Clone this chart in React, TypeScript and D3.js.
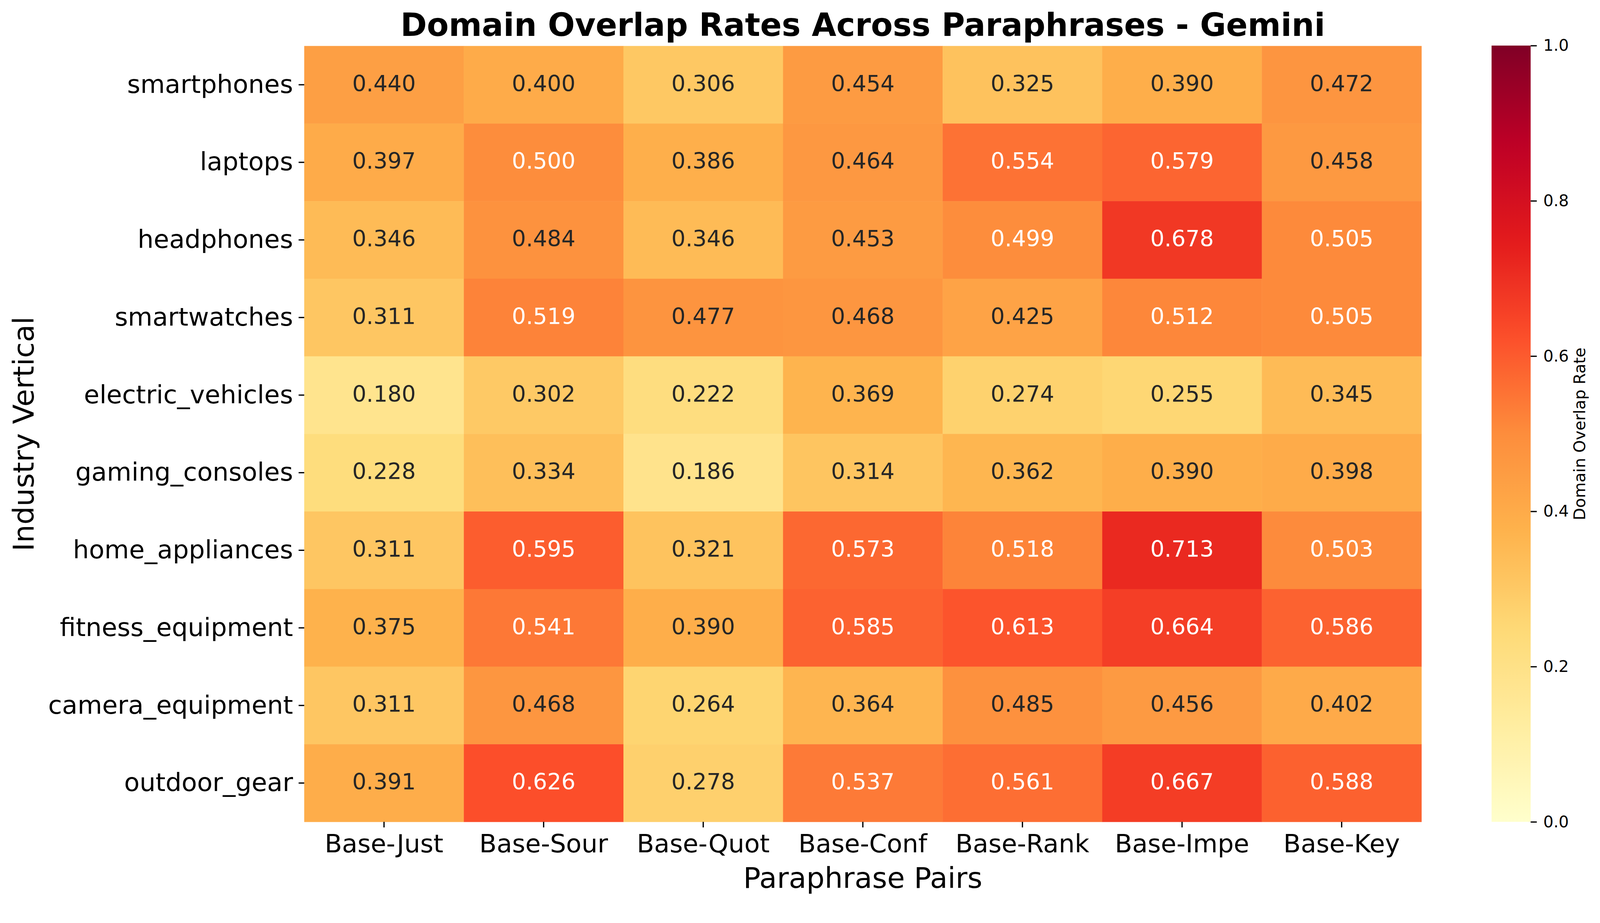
import React, { useEffect, useRef } from "react";
import * as d3 from "d3";

const industries = [
  "smartphones",
  "laptops",
  "headphones",
  "smartwatches",
  "electric_vehicles",
  "gaming_consoles",
  "home_appliances",
  "fitness_equipment",
  "camera_equipment",
  "outdoor_gear",
];

const pairs = ["Base-Just", "Base-Sour", "Base-Quot", "Base-Conf", "Base-Rank", "Base-Impe", "Base-Key"];

// one row per industry, one value per paraphrase pair
const overlap = [
  [0.44, 0.4, 0.306, 0.454, 0.325, 0.39, 0.472],
  [0.397, 0.5, 0.386, 0.464, 0.554, 0.579, 0.458],
  [0.346, 0.484, 0.346, 0.453, 0.499, 0.678, 0.505],
  [0.311, 0.519, 0.477, 0.468, 0.425, 0.512, 0.505],
  [0.18, 0.302, 0.222, 0.369, 0.274, 0.255, 0.345],
  [0.228, 0.334, 0.186, 0.314, 0.362, 0.39, 0.398],
  [0.311, 0.595, 0.321, 0.573, 0.518, 0.713, 0.503],
  [0.375, 0.541, 0.39, 0.585, 0.613, 0.664, 0.586],
  [0.311, 0.468, 0.264, 0.364, 0.485, 0.456, 0.402],
  [0.391, 0.626, 0.278, 0.537, 0.561, 0.667, 0.588],
];

const colorbarTicks = [0, 0.2, 0.4, 0.6, 0.8, 1.0];

// matplotlib YlOrRd (9 ColorBrewer stops, linear in RGB)
const YLORRD = ["#ffffcc", "#ffeda0", "#fed976", "#feb24c", "#fd8d3c", "#fc4e2a", "#e31a1c", "#bd0026", "#800026"];

const W = 4176;
const H = 2364;
const FONT = "'DejaVu Sans', sans-serif";

const plot = { left: 794, right: 3710, top: 120, bottom: 2146 };
const cbar = { left: 3893, right: 3995 };

const cmap = d3
  .scaleLinear<string>()
  .domain(YLORRD.map((_, i) => i / (YLORRD.length - 1)))
  .range(YLORRD)
  .interpolate(d3.interpolateRgb)
  .clamp(true);

function luminance(c: string) {
  const rgb = d3.rgb(c);
  const lin = (v: number) => {
    const s = v / 255;
    return s <= 0.03928 ? s / 12.92 : Math.pow((s + 0.055) / 1.055, 2.4);
  };
  return 0.2126 * lin(rgb.r) + 0.7152 * lin(rgb.g) + 0.0722 * lin(rgb.b);
}

export default function App() {
  const svgRef = useRef<SVGSVGElement>(null);

  useEffect(() => {
    if (!svgRef.current) return;
    const svg = d3.select(svgRef.current);
    svg.selectAll("*").remove();

    const x = d3.scaleBand<string>().domain(pairs).range([plot.left, plot.right]).padding(0);
    const y = d3.scaleBand<string>().domain(industries).range([plot.top, plot.bottom]).padding(0);
    const color = d3.scaleLinear().domain([0, 1]).range([0, 1]);

    const cells = industries.flatMap((ind, r) =>
      pairs.map((p, c) => ({ ind, p, v: overlap[r][c] }))
    );

    const g = svg.append("g");

    g.selectAll("rect.cell")
      .data(cells)
      .enter()
      .append("rect")
      .attr("class", "cell")
      .attr("x", d => x(d.p) as number)
      .attr("y", d => y(d.ind) as number)
      .attr("width", x.bandwidth() + 0.5)
      .attr("height", y.bandwidth() + 0.5)
      .attr("fill", d => cmap(color(d.v)));

    g.selectAll("text.annot")
      .data(cells)
      .enter()
      .append("text")
      .attr("class", "annot")
      .attr("x", d => (x(d.p) as number) + x.bandwidth() / 2)
      .attr("y", d => (y(d.ind) as number) + y.bandwidth() / 2 + 17)
      .attr("text-anchor", "middle")
      .attr("font-family", FONT)
      .attr("font-size", 58)
      .attr("fill", d => (luminance(cmap(color(d.v))) > 0.408 ? "#262626" : "#ffffff"))
      .text(d => d.v.toFixed(3));

    // axes
    const tick = 14.6;
    const xAxis = g
      .append("g")
      .attr("transform", `translate(0,${plot.bottom})`)
      .call(d3.axisBottom(x).tickSize(tick).tickPadding(tick));
    xAxis.select(".domain").remove();
    xAxis.selectAll("line").attr("stroke", "#000").attr("stroke-width", 3.3);
    xAxis.selectAll("text").attr("font-family", FONT).attr("font-size", 66).attr("fill", "#000").attr("dy", "0.76em");

    const yAxis = g
      .append("g")
      .attr("transform", `translate(${plot.left},0)`)
      .call(d3.axisLeft(y).tickSize(tick).tickPadding(tick));
    yAxis.select(".domain").remove();
    yAxis.selectAll("line").attr("stroke", "#000").attr("stroke-width", 3.3);
    yAxis.selectAll("text").attr("font-family", FONT).attr("font-size", 66).attr("fill", "#000").attr("dy", "0.32em");

    // colorbar
    const cy = d3.scaleLinear().domain([0, 1]).range([plot.bottom, plot.top - 1]);
    const defs = svg.append("defs");
    const grad = defs
      .append("linearGradient")
      .attr("id", "cbar-grad")
      .attr("x1", 0)
      .attr("y1", 1)
      .attr("x2", 0)
      .attr("y2", 0);
    d3.range(0, 1.0001, 0.02).forEach(t => {
      grad.append("stop").attr("offset", t).attr("stop-color", cmap(t));
    });
    g.append("rect")
      .attr("x", cbar.left)
      .attr("y", cy(1))
      .attr("width", cbar.right - cbar.left)
      .attr("height", cy(0) - cy(1))
      .attr("fill", "url(#cbar-grad)");

    const cAxis = g
      .append("g")
      .attr("transform", `translate(${cbar.right},0)`)
      .call(
        d3
          .axisRight(cy)
          .tickValues(colorbarTicks)
          .tickFormat(d3.format(".1f"))
          .tickSize(16)
          .tickPadding(17)
      );
    cAxis.select(".domain").remove();
    cAxis.selectAll("line").attr("stroke", "#000").attr("stroke-width", 3.3);
    cAxis.selectAll("text").attr("font-family", FONT).attr("font-size", 42).attr("fill", "#000");

    g.append("text")
      .attr("transform", `translate(4137,${(plot.top + plot.bottom) / 2}) rotate(-90)`)
      .attr("text-anchor", "middle")
      .attr("font-family", FONT)
      .attr("font-size", 42)
      .attr("fill", "#000")
      .text("Domain Overlap Rate");

    // titles
    g.append("text")
      .attr("x", (plot.left + plot.right) / 2)
      .attr("y", 94)
      .attr("text-anchor", "middle")
      .attr("font-family", FONT)
      .attr("font-weight", "bold")
      .attr("font-size", 83)
      .attr("fill", "#000")
      .text("Domain Overlap Rates Across Paraphrases - Gemini");

    g.append("text")
      .attr("x", (plot.left + plot.right) / 2)
      .attr("y", 2318)
      .attr("text-anchor", "middle")
      .attr("font-family", FONT)
      .attr("font-size", 75)
      .attr("fill", "#000")
      .text("Paraphrase Pairs");

    g.append("text")
      .attr("transform", `translate(88,${(plot.top + plot.bottom) / 2}) rotate(-90)`)
      .attr("text-anchor", "middle")
      .attr("font-family", FONT)
      .attr("font-size", 75)
      .attr("fill", "#000")
      .text("Industry Vertical");
  }, []);

  // fill the viewport from its top-left corner, whatever its CSS size turns out to be
  return (
    <svg
      ref={svgRef}
      viewBox={`0 0 ${W} ${H}`}
      preserveAspectRatio="xMinYMin meet"
      style={{ position: "fixed", left: 0, top: 0, width: "100%", height: "100%", background: "#fff", display: "block" }}
    />
  );
}
